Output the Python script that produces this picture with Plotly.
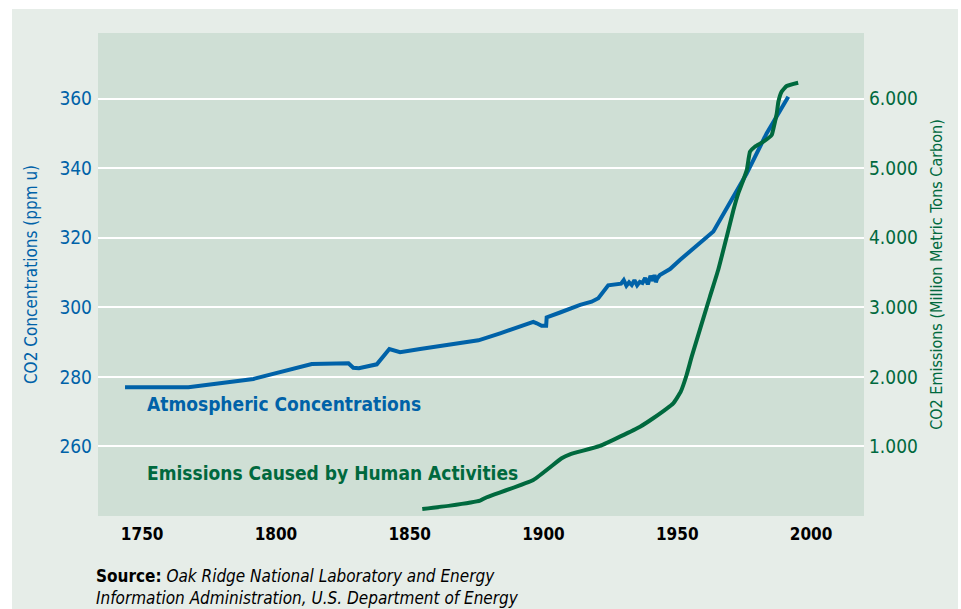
import plotly.graph_objects as go

# ---- data ----
co2_years = [1743.6, 1767.3, 1791.6, 1813.4, 1827.1, 1828.9, 1831.0, 1837.7, 1842.4, 1846.4,
             1853.9, 1856.4, 1865.1, 1875.7, 1883.8, 1896.2, 1897.5, 1899.3, 1901.0, 1901.2,
             1906.2, 1913.7, 1918.0, 1920.5, 1924.2, 1928.0, 1929.0, 1930.0, 1931.0, 1932.0,
             1933.0, 1934.0, 1935.0, 1936.0, 1937.0, 1938.0, 1939.0, 1940.0, 1941.0, 1941.5,
             1942.0, 1942.5, 1943.5, 1947.3, 1951.0, 1963.5, 1971.0, 1976.0, 1983.4, 1991.5]
co2_ppm = [277.0, 277.0, 279.4, 283.7, 283.9, 282.6, 282.5, 283.6, 288.0, 287.1,
           288.0, 288.3, 289.5, 290.5, 292.5, 295.8, 295.4, 294.7, 294.7, 297.1,
           298.5, 300.7, 301.6, 302.6, 306.3, 306.6, 306.8, 307.8, 306.2, 307.2,
           306.4, 307.8, 306.3, 307.3, 307.0, 308.4, 306.6, 309.0, 307.6, 309.3,
           307.2, 308.3, 309.3, 311.0, 313.6, 321.8, 331.8, 338.5, 350.0, 360.5]

em_years = [1854.7, 1865.1, 1876.3, 1878.8, 1896.2, 1906.8, 1909.9, 1921.1, 1936.1, 1941.0,
            1948.5, 1951.3, 1953.5, 1955.4, 1962.2, 1965.3, 1968.5, 1971.0, 1972.8, 1974.7,
            1976.0, 1976.6, 1977.2, 1979.0, 1982.2, 1985.3, 1986.1, 1987.2, 1987.8, 1989.0,
            1990.9, 1995.2]
em_mtc = [101, 149, 221, 270, 518, 830, 887, 1007, 1284, 1405,
          1620, 1787, 2027, 2290, 3152, 3536, 4015, 4399, 4638, 4830,
          4973, 5117, 5237, 5308, 5380, 5476, 5596, 5788, 5955, 6099,
          6181, 6228]

x_ticks = [1750, 1800, 1850, 1900, 1950, 2000]
left_ticks = [260, 280, 300, 320, 340, 360]
right_ticks = [1000, 2000, 3000, 4000, 5000, 6000]
right_tick_labels = ["1.000", "2.000", "3.000", "4.000", "5.000", "6.000"]

BLUE = "#0062A8"
GREEN = "#00693E"
FONT = "DejaVu Sans Condensed, Liberation Sans Narrow, sans-serif"

fig = go.Figure()
fig.add_trace(go.Scatter(x=co2_years, y=co2_ppm, mode="lines",
                         line=dict(color=BLUE, width=4), yaxis="y", showlegend=False))
fig.add_trace(go.Scatter(x=em_years, y=em_mtc, mode="lines",
                         line=dict(color=GREEN, width=4, shape="spline", smoothing=0.4),
                         yaxis="y2", showlegend=False))

W, H = 961, 609
ml, mr, mt, mb = 98, 97, 33, 93
pw, ph = W - ml - mr, H - mt - mb

def px(xp):
    return (xp - ml) / pw

def py(yp):
    return (H - mb - yp) / ph

white_strip = dict(type="rect", xref="paper", yref="paper", layer="below",
                   fillcolor="white", line=dict(width=0))

fig.update_layout(
    width=W, height=H,
    margin=dict(l=ml, r=mr, t=mt, b=mb, pad=0),
    paper_bgcolor="#E6EDE8",
    plot_bgcolor="#CFDFD5",
    font=dict(family=FONT),
    xaxis=dict(range=[1733.5, 2019.8], tickvals=x_ticks, showgrid=False, zeroline=False,
               showline=False, ticks="", ticklabelstandoff=6,
               tickfont=dict(family=FONT, size=17, color="black", weight="bold")),
    yaxis=dict(range=[240.0, 378.85], tickvals=left_ticks, showgrid=True, gridcolor="white",
               gridwidth=2, zeroline=False, showline=False, ticks="", ticklabelstandoff=5,
               tickfont=dict(family=FONT, size=19, color=BLUE),
               title=dict(text="CO2 Concentrations (ppm u)", standoff=17,
                          font=dict(family=FONT, size=17, color=BLUE))),
    yaxis2=dict(range=[0, 6942.5], tickvals=right_ticks, ticktext=right_tick_labels,
                overlaying="y", side="right", showgrid=False, zeroline=False, showline=False,
                ticks="", ticklabelstandoff=4,
                tickfont=dict(family=FONT, size=19, color=GREEN),
                title=dict(text="CO2 Emissions (Million Metric Tons Carbon)", standoff=13,
                           font=dict(family=FONT, size=16, color=GREEN))),
    shapes=[
        dict(white_strip, x0=px(0), x1=px(12), y0=py(H), y1=py(0)),
        dict(white_strip, x0=px(0), x1=px(W), y0=py(9), y1=py(0)),
        dict(white_strip, x0=px(958), x1=px(W), y0=py(H), y1=py(0)),
    ],
    annotations=[
        dict(text="<b>Atmospheric Concentrations</b>", xref="paper", yref="paper",
             x=px(145), y=py(404), xanchor="left", yanchor="middle", showarrow=False,
             font=dict(family=FONT, size=19, color=BLUE)),
        dict(text="<b>Emissions Caused by Human Activities</b>", xref="paper", yref="paper",
             x=px(145), y=py(473), xanchor="left", yanchor="middle", showarrow=False,
             font=dict(family=FONT, size=19, color=GREEN)),
        dict(text="<b>Source:</b> <i>Oak Ridge National Laboratory and Energy</i><br>"
                  "<i>Information Administration, U.S. Department of Energy</i>",
             xref="paper", yref="paper", x=px(94), y=py(587), xanchor="left",
             yanchor="middle", align="left", showarrow=False,
             font=dict(family=FONT, size=17, color="black")),
    ],
)

fig.write_html("out.html", config={"displayModeBar": False},
               post_script="document.body.style.margin='0';document.body.style.padding='0';")
